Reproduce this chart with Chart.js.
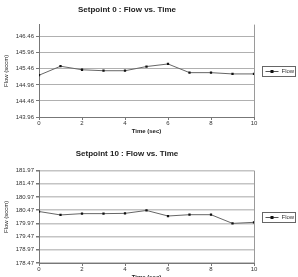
<!DOCTYPE html>
<html>
<head>
<meta charset="utf-8">
<script src="https://cdn.jsdelivr.net/npm/chart.js@4/dist/chart.umd.min.js"></script>
<style>
  html, body { margin: 0; padding: 0; background: #fff; overflow: hidden; }
  body { width: 298px; height: 277px; position: relative; }
  .box { position: absolute; left: 0; width: 298px; }
  #topBox { top: 0; height: 140px; }
  #bottomBox { top: 140px; height: 146px; }
</style>
</head>
<body>
<div class="box" id="topBox"><canvas id="chartTop"></canvas></div>
<div class="box" id="bottomBox"><canvas id="chartBottom"></canvas></div>
<script>
// time axis (sec)
const times = [0, 1, 2, 3, 4, 5, 6, 7, 8, 9, 10];
const timeTicks = [0, 2, 4, 6, 8, 10];

// flow readings (sccm)
const flowSetpoint0 = [145.26, 145.54, 145.43, 145.40, 145.40, 145.53, 145.61, 145.34, 145.34, 145.30, 145.30];
const flowSetpoint10 = [180.42, 180.29, 180.34, 180.34, 180.35, 180.46, 180.25, 180.30, 180.30, 179.97, 180.01];

const flowTicks0 = [143.96, 144.46, 144.96, 145.46, 145.96, 146.46];
const flowTicks10 = [178.47, 178.97, 179.47, 179.97, 180.47, 180.97, 181.47, 181.97];

const FONT = "'Liberation Sans', Arial, sans-serif";

// right border of the plot area + Excel-style legend box
const plotFrame = {
  id: "plotFrame",
  afterDraw(chart) {
    const { ctx, chartArea } = chart;
    ctx.save();
    ctx.strokeStyle = "#9a9a9a";
    ctx.lineWidth = 1;
    ctx.beginPath();
    ctx.moveTo(Math.round(chartArea.right) + 0.5, chartArea.top);
    ctx.lineTo(Math.round(chartArea.right) + 0.5, chartArea.bottom);
    ctx.stroke();

    const x = Math.round(chartArea.right) + 8.5;
    const cy = Math.round((chartArea.top + chartArea.bottom) / 2) + 0.5;
    ctx.strokeStyle = "#666";
    ctx.strokeRect(x, cy - 5, 33, 10);
    ctx.strokeStyle = "#555";
    ctx.beginPath();
    ctx.moveTo(x + 3, cy);
    ctx.lineTo(x + 16, cy);
    ctx.stroke();
    ctx.fillStyle = "#111";
    ctx.fillRect(x + 8, cy - 1.5, 3, 3);
    ctx.font = "6px " + FONT;
    ctx.fillStyle = "#333";
    ctx.textBaseline = "middle";
    ctx.fillText("Flow", x + 19, cy);
    ctx.restore();
  },
};

function makeChart(canvasId, titleText, values, yTicks, yMax, titlePad, gridStyle) {
  const ctx = document.getElementById(canvasId).getContext("2d");
  return new Chart(ctx, {
    type: "line",
    data: {
      labels: times,
      datasets: [
        {
          label: "Flow",
          data: times.map((t, i) => ({ x: t, y: values[i] })),
          borderColor: "#666",
          borderWidth: 1,
          pointStyle: "rect",
          pointRadius: 1.6,
          pointBackgroundColor: "#111",
          pointBorderColor: "#111",
          pointBorderWidth: 0,
          tension: 0,
        },
      ],
    },
    options: {
      responsive: true,
      maintainAspectRatio: false,
      animation: false,
      layout: { padding: { left: 0, right: 44, top: 0, bottom: 0 } },
      plugins: {
        legend: { display: false },
        tooltip: { enabled: false },
        title: {
          display: true,
          text: titleText,
          color: "#222",
          font: { family: FONT, size: 8, weight: "bold" },
          padding: titlePad,
        },
      },
      scales: {
        x: {
          type: "linear",
          min: 0,
          max: 10,
          afterBuildTicks: (scale) => {
            scale.ticks = timeTicks.map((v) => ({ value: v }));
          },
          afterFit: (scale) => {
            scale.height = 23;
          },
          grid: { drawOnChartArea: false, drawTicks: true, tickLength: 3, color: "#777" },
          border: { display: true, color: "#777" },
          ticks: { color: "#333", font: { family: FONT, size: 6 }, padding: 0, maxRotation: 0 },
          title: {
            display: true,
            text: "Time (sec)",
            color: "#222",
            font: { family: FONT, size: 6, weight: "bold" },
            padding: { top: 0, bottom: 5 },
          },
        },
        y: {
          min: yTicks[0],
          max: yMax,
          afterBuildTicks: (scale) => {
            scale.ticks = yTicks.map((v) => ({ value: v }));
          },
          afterFit: (scale) => {
            scale.width = 39;
          },
          grid: { color: gridStyle.color, lineWidth: gridStyle.width, tickLength: 3, tickColor: "#777" },
          border: { display: true, color: "#777" },
          ticks: {
            color: "#333",
            font: { family: FONT, size: 6 },
            padding: 2,
            callback: (v) => v.toFixed(2),
          },
          title: {
            display: true,
            text: "Flow (sccm)",
            color: "#222",
            font: { family: FONT, size: 6 },
            padding: { top: 3, bottom: 0 },
          },
        },
      },
    },
    plugins: [plotFrame],
  });
}

makeChart("chartTop", "Setpoint 0 : Flow vs. Time", flowSetpoint0, flowTicks0, 146.835,
  { top: 5, bottom: 10 }, { color: "#b0b0b0", width: 1 });
makeChart("chartBottom", "Setpoint 10 : Flow vs. Time", flowSetpoint10, flowTicks10, 181.97,
  { top: 9, bottom: 12 }, { color: "#c4c4c4", width: 1.5 });
</script>
</body>
</html>
